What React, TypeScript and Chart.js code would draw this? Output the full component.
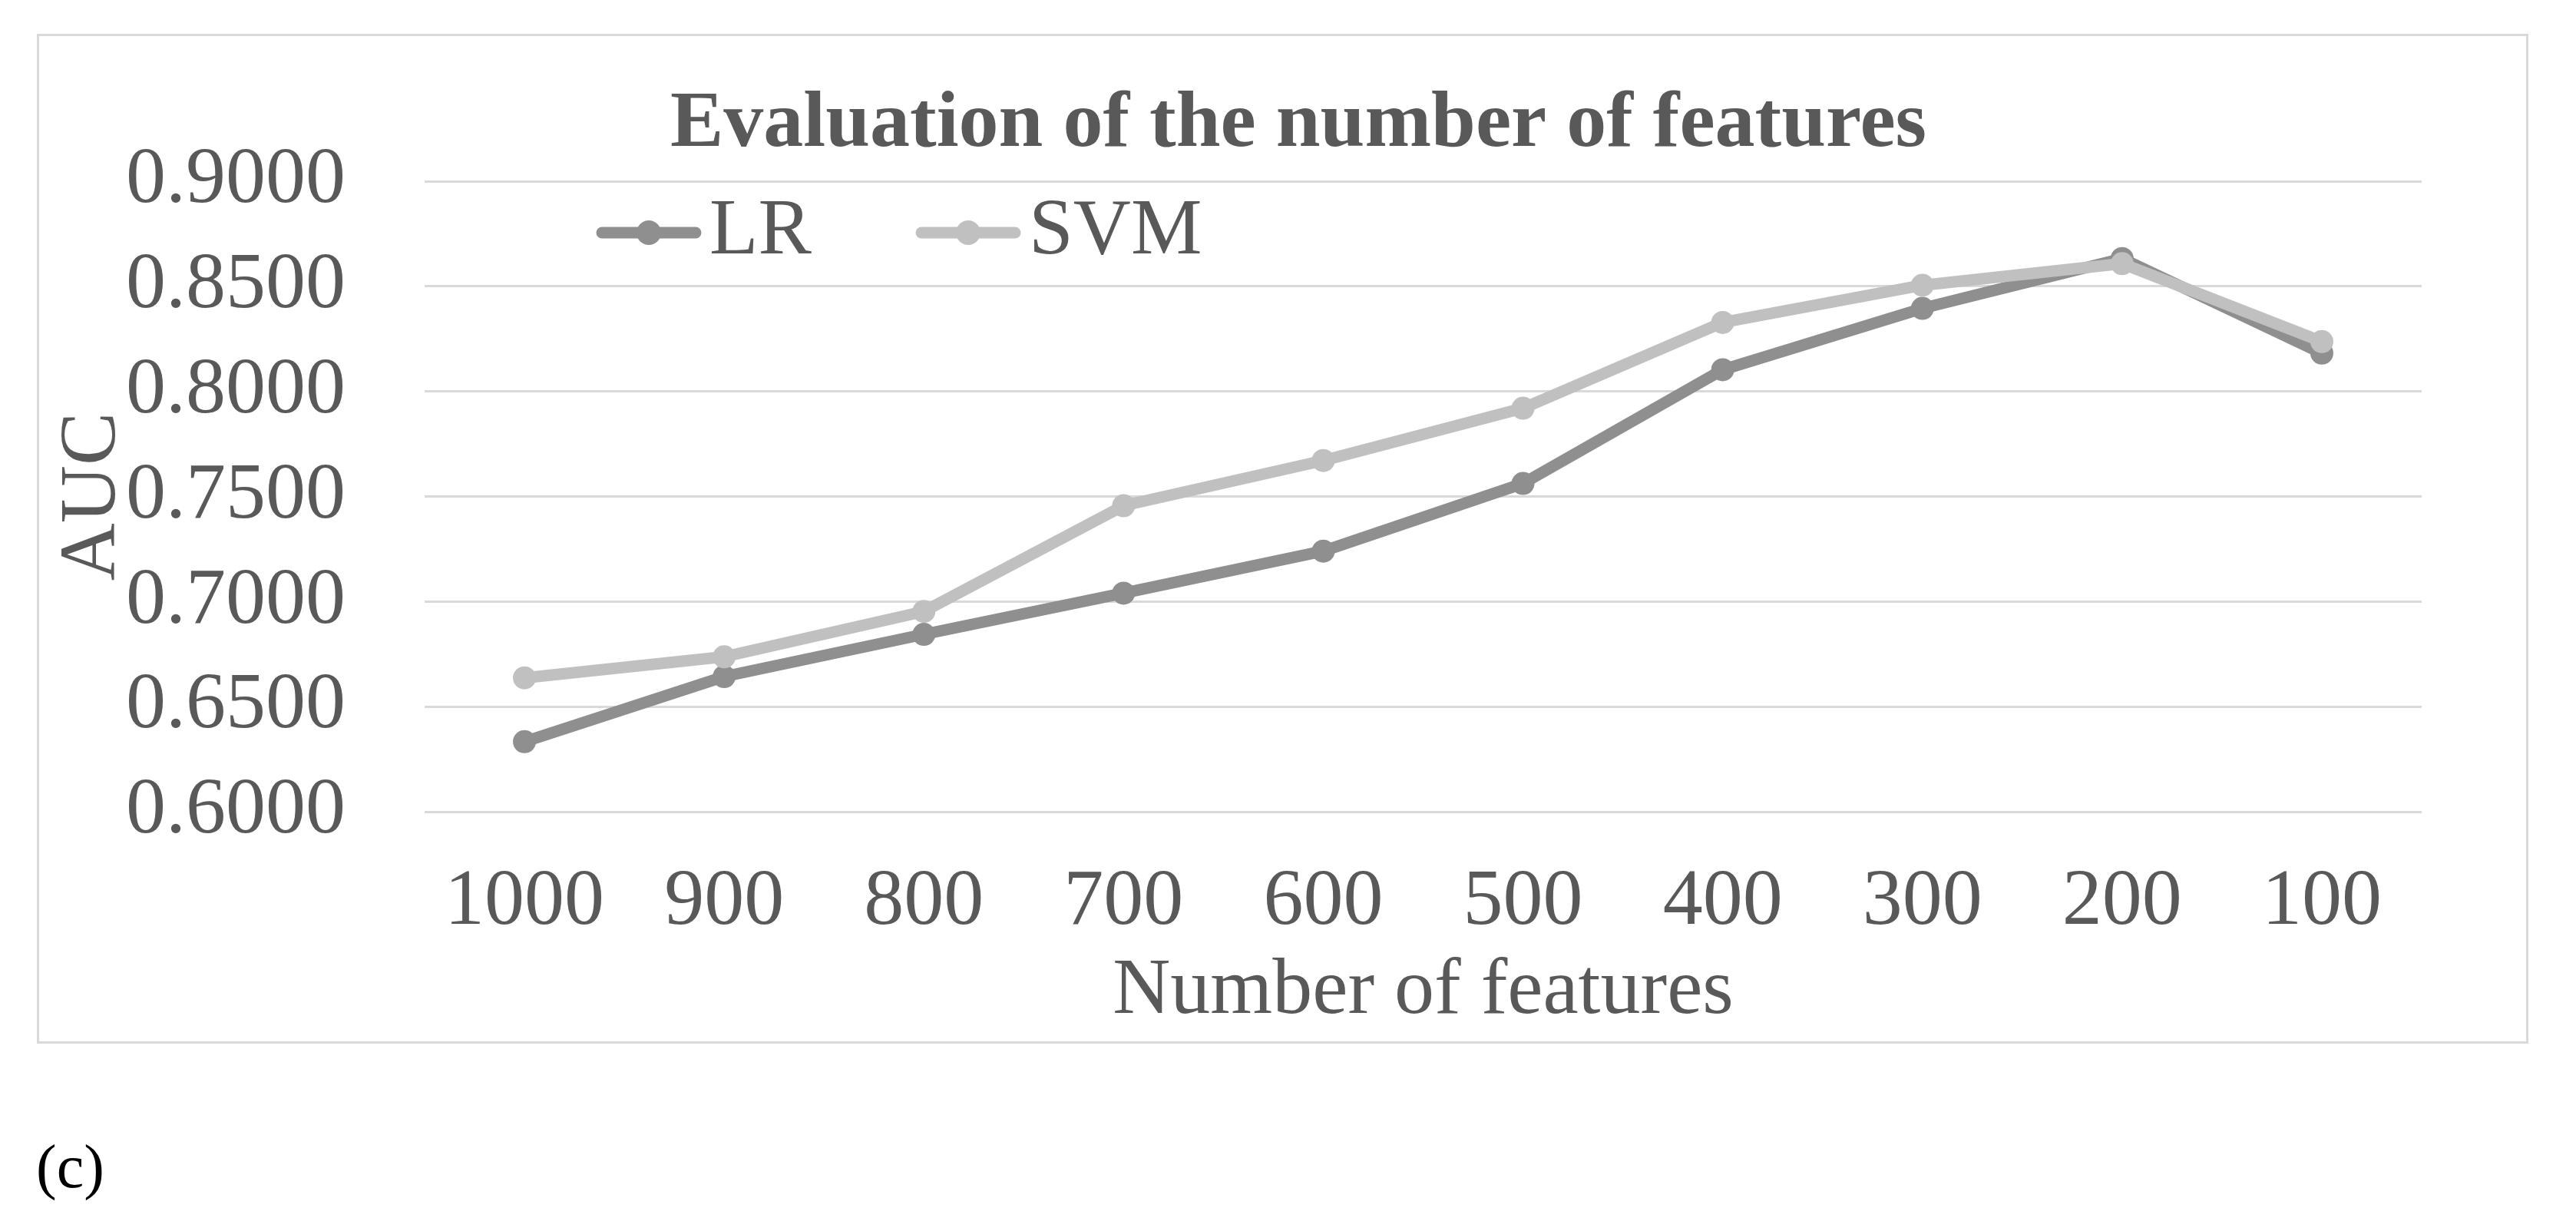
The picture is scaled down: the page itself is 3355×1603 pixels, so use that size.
import React, { useEffect, useRef } from "react";
import { Chart, registerables } from "chart.js";

Chart.register(...registerables);

// ---- data ----
const categories = ["1000", "900", "800", "700", "600", "500", "400", "300", "200", "100"];
const lrValues = [0.6333, 0.6643, 0.6844, 0.704, 0.724, 0.7562, 0.8103, 0.8395, 0.8632, 0.8182];
const svmValues = [0.6637, 0.6737, 0.6953, 0.7456, 0.7671, 0.792, 0.8328, 0.8505, 0.8608, 0.8237];
const seriesNames = ["LR", "SVM"];
const yMin = 0.6;
const yMax = 0.9;
const yStep = 0.05;
const chartTitle = "Evaluation of the number of features";
const xAxisTitle = "Number of features";
const yAxisTitle = "AUC";
const panelLabel = "(c)";

// ---- style ----
const FONT = '"Times New Roman", "Liberation Serif", serif';
const TEXT = "#595959";
const GRID = "#d9d9d9";
const COLORS = ["#8f8f8f", "#c0c0c0"];
const FS = 104;

const titleAndLegend = {
  id: "titleAndLegend",
  afterDatasetsDraw(chart: any) {
    const { ctx, chartArea } = chart;
    ctx.save();
    // title
    ctx.fillStyle = TEXT;
    ctx.font = `bold ${FS}px ${FONT}`;
    ctx.textAlign = "center";
    ctx.textBaseline = "middle";
    ctx.fillText(chartTitle, 1640, 116);

    // legend inside the plot area
    const y = chartArea.top + 67;
    const starts = [chartArea.left + 224, chartArea.left + 640];
    const lineLen = 136;
    seriesNames.forEach((name, i) => {
      const x0 = starts[i];
      ctx.strokeStyle = COLORS[i];
      ctx.lineWidth = 15;
      ctx.lineCap = "round";
      ctx.beginPath();
      ctx.moveTo(x0 + 7, y);
      ctx.lineTo(x0 + lineLen - 7, y);
      ctx.stroke();
      ctx.fillStyle = COLORS[i];
      ctx.beginPath();
      ctx.arc(x0 + lineLen / 2, y, 16, 0, Math.PI * 2);
      ctx.fill();
      ctx.fillStyle = TEXT;
      ctx.font = `${FS}px ${FONT}`;
      ctx.textAlign = "left";
      ctx.textBaseline = "middle";
      ctx.fillText(name, x0 + lineLen + 11, y);
    });
    ctx.restore();
  },
};

export default function App() {
  const ref = useRef<HTMLCanvasElement | null>(null);

  useEffect(() => {
    if (!ref.current) return;
    const mk = (i: number, data: number[], order: number) => ({
      label: seriesNames[i],
      data,
      borderColor: COLORS[i],
      backgroundColor: COLORS[i],
      pointBackgroundColor: COLORS[i],
      pointBorderColor: COLORS[i],
      borderWidth: 15,
      pointRadius: 15,
      pointBorderWidth: 0,
      borderCapStyle: "round",
      borderJoinStyle: "round",
      tension: 0,
      order,
    });
    const chart = new Chart(ref.current, {
      type: "line",
      data: {
        labels: categories,
        datasets: [mk(0, lrValues, 1), mk(1, svmValues, 0)] as any,
      },
      options: {
        animation: false,
        responsive: false,
        maintainAspectRatio: false,
        devicePixelRatio: 1,
        layout: { padding: { left: 0, right: 136, top: 189, bottom: 0 } },
        plugins: {
          legend: { display: false },
          tooltip: { enabled: false },
          title: { display: false },
        },
        scales: {
          x: {
            type: "category",
            offset: true,
            grid: { display: false, drawTicks: false },
            border: { display: false },
            ticks: {
              color: TEXT,
              font: { family: FONT, size: FS, lineHeight: 1.2 },
              padding: 56,
              maxRotation: 0,
              autoSkip: false,
            },
            title: {
              display: true,
              text: xAxisTitle,
              color: TEXT,
              font: { family: FONT, size: FS, lineHeight: 1.2 },
              padding: { top: 0, bottom: 2 },
            },
            afterFit(scale: any) {
              scale.height = 299;
            },
          },
          y: {
            min: yMin,
            max: yMax,
            grid: { color: GRID, lineWidth: 3, drawTicks: false },
            border: { display: false },
            ticks: {
              stepSize: yStep,
              color: TEXT,
              font: { family: FONT, size: FS, lineHeight: 1.2 },
              padding: 103,
              callback: (v: any) => Number(v).toFixed(4),
            },
            title: {
              display: true,
              text: yAxisTitle,
              color: TEXT,
              font: { family: FONT, size: FS, lineHeight: 1.2 },
              padding: { top: 8, bottom: 0 },
            },
            afterFit(scale: any) {
              scale.width = 502;
            },
          },
        },
      },
      plugins: [titleAndLegend],
    });
    return () => chart.destroy();
  }, []);

  return (
    <div style={{ position: "absolute", left: 0, top: 0, width: 3355, height: 1603, background: "#fff", overflow: "hidden" }}>
      <div
        style={{
          position: "absolute",
          left: 48,
          top: 44,
          width: 3245,
          height: 1315,
          boxSizing: "border-box",
          border: `3px solid ${GRID}`,
          background: "#fff",
        }}
      >
        <canvas ref={ref} width={3239} height={1309} style={{ display: "block", width: 3239, height: 1309 }} />
      </div>
      <div
        style={{
          position: "absolute",
          left: 47,
          top: 1479,
          fontFamily: FONT,
          fontSize: 80,
          lineHeight: 1,
          color: "#000",
          whiteSpace: "nowrap",
        }}
      >
        {panelLabel}
      </div>
    </div>
  );
}
